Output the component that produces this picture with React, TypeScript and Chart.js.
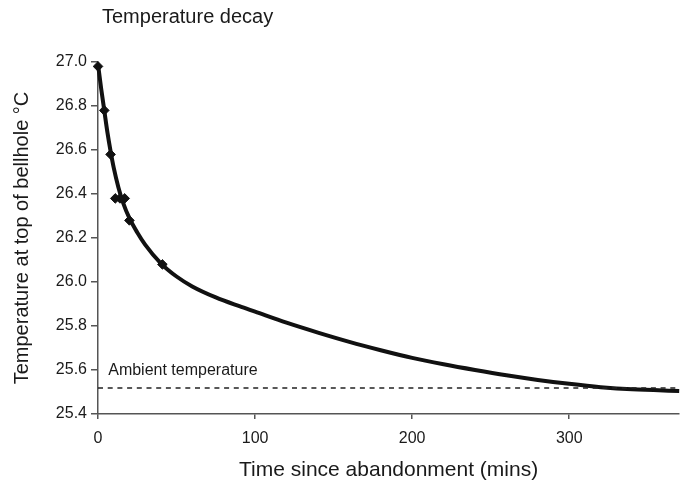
import React, { useEffect, useRef } from "react";
import { Chart, registerables } from "chart.js";

Chart.register(...registerables);

const obsTime = [0, 4, 8, 11, 14, 17, 20, 41];
const obsTemp = [26.98, 26.78, 26.58, 26.38, 26.38, 26.38, 26.28, 26.08];

const fitTime = [0, 2, 4, 6, 8, 10, 13, 16, 20, 25, 30, 40, 50, 60, 75, 90, 100, 120, 140, 160, 180, 200, 220, 240, 260, 280, 300, 320, 340, 370];
const fitTemp = [26.99, 26.88, 26.78, 26.68, 26.595, 26.52, 26.43, 26.36, 26.29, 26.225, 26.17, 26.085, 26.025, 25.98, 25.93, 25.89, 25.865, 25.815, 25.77, 25.728, 25.69, 25.655, 25.626, 25.6, 25.576, 25.555, 25.537, 25.522, 25.512, 25.505];

const ambientTemp = 25.518;
const ambientRange = [0, 370];
const ambientLabel = "Ambient temperature";
const chartTitle = "Temperature decay";
const xTitle = "Time since abandonment (mins)";
const yTitle = "Temperature at top of bellhole °C";

const FONT = "Arial, 'Liberation Sans', Helvetica, sans-serif";
const INK = "#1a1a1a";

export default function App() {
  const ref = useRef<HTMLCanvasElement | null>(null);
  useEffect(() => {
    document.body.style.margin = "0";
    const canvas = ref.current!;
    const textPlugin = {
      id: "texts",
      afterDraw(chart: any) {
        const ctx = chart.ctx;
        const xs = chart.scales.x;
        const ys = chart.scales.y;
        ctx.save();
        ctx.fillStyle = INK;
        ctx.font = `20px ${FONT}`;
        ctx.textAlign = "left";
        ctx.textBaseline = "alphabetic";
        ctx.fillText(chartTitle, chart.chartArea.left + 4, 22.5);
        ctx.font = `16px ${FONT}`;
        ctx.fillText(ambientLabel, xs.getPixelForValue(6.5), ys.getPixelForValue(ambientTemp) - 13);
        ctx.restore();
      },
    };
    const chart = new Chart(canvas, {
      type: "scatter",
      data: {
        datasets: [
          {
            label: "ambient",
            data: ambientRange.map((t) => ({ x: t, y: ambientTemp })),
            showLine: true,
            borderColor: "#222",
            borderWidth: 1.6,
            borderDash: [5, 4.7],
            pointRadius: 0,
          },
          {
            label: "fit",
            data: fitTime.map((t, i) => ({ x: t, y: fitTemp[i] })),
            showLine: true,
            borderColor: "#111",
            borderWidth: 4,
            tension: 0.4,
            cubicInterpolationMode: "monotone",
            pointRadius: 0,
          },
          {
            label: "observed",
            data: obsTime.map((t, i) => ({ x: t, y: obsTemp[i] })),
            showLine: false,
            pointStyle: "rectRot",
            pointRadius: 4.8,
            backgroundColor: "#111",
            borderColor: "#111",
            borderWidth: 1,
          },
        ],
      },
      options: {
        responsive: false,
        animation: false,
        clip: false,
        layout: { padding: { top: 62, right: 4, left: 0, bottom: 0 } },
        plugins: { legend: { display: false }, tooltip: { enabled: false }, title: { display: false } },
        scales: {
          x: {
            type: "linear",
            min: 0,
            max: 370,
            afterFit: (s: any) => { s.height = 73; },
            border: { display: true, color: "#555", width: 1.5 },
            grid: { display: true, drawOnChartArea: false, drawTicks: true, tickLength: 5, color: "#555", lineWidth: 1.5 },
            ticks: { stepSize: 100, includeBounds: false, color: INK, font: { family: FONT, size: 16 }, padding: 10 },
            title: { display: true, text: xTitle, color: INK, font: { family: FONT, size: 21 }, padding: { top: 0, bottom: 4 } },
          },
          y: {
            type: "linear",
            min: 25.4,
            max: 27.0,
            afterFit: (s: any) => { s.width = 98; },
            border: { display: true, color: "#555", width: 1.5 },
            grid: { display: true, drawOnChartArea: false, drawTicks: true, tickLength: 7, color: "#555", lineWidth: 1.5 },
            ticks: { stepSize: 0.2, color: INK, font: { family: FONT, size: 16 }, padding: 4, callback: (v: any) => Number(v).toFixed(1) },
            title: { display: true, text: yTitle, color: INK, font: { family: FONT, size: 20 }, padding: { top: 10, bottom: 0 } },
          },
        },
      },
      plugins: [textPlugin],
    });
    return () => chart.destroy();
  }, []);
  return (
    <div style={{ position: "relative", width: 685, height: 487, background: "#fff" }}>
      <canvas ref={ref} width={685} height={487} />
    </div>
  );
}
